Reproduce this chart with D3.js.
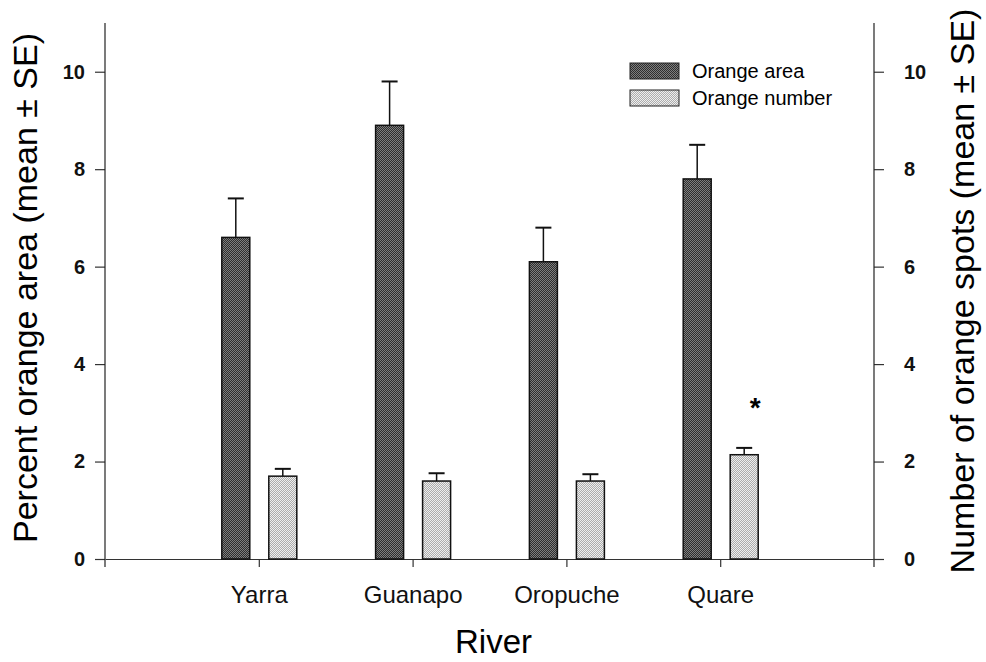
<!DOCTYPE html>
<html>
<head>
<meta charset="utf-8">
<script src="https://cdn.jsdelivr.net/npm/d3@7"></script>
<style>
  body { margin: 0; background: #fff; }
  text { font-family: "Liberation Sans", Arial, sans-serif; }
</style>
</head>
<body>
<div id="chart"></div>
<script>
// chart data
var rivers = ["Yarra", "Guanapo", "Oropuche", "Quare"];
var areaMean = [6.6, 8.9, 6.1, 7.8];
var areaSE = [0.8, 0.9, 0.7, 0.7];
var numberMean = [1.7, 1.6, 1.6, 2.14];
var numberSE = [0.15, 0.16, 0.14, 0.14];
var yTicks = [0, 2, 4, 6, 8, 10];
var seriesNames = ["Orange area", "Orange number"];
var starRiver = "Quare";

var svgWidth = 986;
var svgHeight = 662;

var margin = { top: 23, right: 112, bottom: 103, left: 105 };
var width = svgWidth - margin.left - margin.right;
var height = svgHeight - margin.top - margin.bottom;

var svg = d3.select("#chart")
  .append("svg")
  .attr("width", svgWidth)
  .attr("height", svgHeight);

// stipple patterns for the bars
var defs = svg.append("defs");
function stipple(id, a, b) {
  var p = defs.append("pattern")
    .attr("id", id)
    .attr("width", 2)
    .attr("height", 2)
    .attr("patternUnits", "userSpaceOnUse");
  p.append("rect").attr("width", 2).attr("height", 2).attr("fill", a);
  p.append("rect").attr("width", 1).attr("height", 1).attr("fill", b);
  p.append("rect").attr("x", 1).attr("y", 1).attr("width", 1).attr("height", 1).attr("fill", b);
}
stipple("darkFill", "#2e2e2e", "#7e7e7e");
stipple("lightFill", "#acacac", "#eeeeee");
var fills = ["url(#darkFill)", "url(#lightFill)"];

var chartGroup = svg.append("g")
  .attr("transform", `translate(${margin.left}, ${margin.top})`);

// categories sit at 1..4 on a 0..5 axis
var xScale = d3.scaleLinear()
  .domain([0, rivers.length + 1])
  .range([0, width]);

var yScale = d3.scaleLinear()
  .domain([0, 11])
  .range([height, 0]);

var barWidth = 28;
var offsets = [-23, 24];

// axes
var leftAxis = d3.axisLeft(yScale).tickValues(yTicks).tickSize(10).tickPadding(10).tickSizeOuter(0);
var rightAxis = d3.axisRight(yScale).tickValues(yTicks).tickSize(10).tickPadding(20).tickSizeOuter(0);
var bottomAxis = d3.axisBottom(xScale)
  .tickValues(d3.range(1, rivers.length + 1))
  .tickFormat(d => rivers[d - 1])
  .tickSize(8)
  .tickPadding(19)
  .tickSizeOuter(0);

var lg = chartGroup.append("g").attr("class", "axis").call(leftAxis);
var rg = chartGroup.append("g").attr("class", "axis")
  .attr("transform", `translate(${width}, 0)`).call(rightAxis);
var bg = chartGroup.append("g").attr("class", "axis")
  .attr("transform", `translate(0, ${height})`).call(bottomAxis);

[lg, rg].forEach(function (g) {
  g.select(".domain").remove();
  g.append("line")
    .attr("y1", 0).attr("y2", height + 8)
    .attr("stroke", "#222").attr("stroke-width", 1.2);
  g.selectAll(".tick text")
    .style("font-size", "20px")
    .style("font-weight", "bold")
    .attr("fill", "#111");
});
chartGroup.selectAll(".axis .tick line").attr("stroke", "#333").attr("stroke-width", 1.2);
bg.select(".domain").attr("stroke", "#333").attr("stroke-width", 1.2);
bg.selectAll(".tick text")
  .style("font-size", "24px")
  .attr("fill", "#111");

// bars
var series = [areaMean, numberMean];
var seriesSE = [areaSE, numberSE];

series.forEach(function (vals, s) {
  var cx = (d, i) => xScale(i + 1) + offsets[s];

  chartGroup.selectAll(".err" + s)
    .data(vals)
    .enter()
    .append("line")
    .attr("class", "err" + s)
    .attr("x1", cx).attr("x2", cx)
    .attr("y1", d => yScale(d))
    .attr("y2", (d, i) => yScale(d + seriesSE[s][i]))
    .attr("stroke", "#111").attr("stroke-width", 1.5);

  chartGroup.selectAll(".cap" + s)
    .data(vals)
    .enter()
    .append("line")
    .attr("class", "cap" + s)
    .attr("x1", (d, i) => cx(d, i) - 8).attr("x2", (d, i) => cx(d, i) + 8)
    .attr("y1", (d, i) => yScale(d + seriesSE[s][i]))
    .attr("y2", (d, i) => yScale(d + seriesSE[s][i]))
    .attr("stroke", "#111").attr("stroke-width", 2);

  chartGroup.selectAll(".bar" + s)
    .data(vals)
    .enter()
    .append("rect")
    .attr("class", "bar" + s)
    .attr("x", (d, i) => cx(d, i) - barWidth / 2)
    .attr("y", d => yScale(d))
    .attr("width", barWidth)
    .attr("height", d => height - yScale(d))
    .attr("fill", fills[s])
    .attr("stroke", "#111")
    .attr("stroke-width", 1.5);
});

// significance star
var si = rivers.indexOf(starRiver);
chartGroup.append("text")
  .attr("x", xScale(si + 1) + 35)
  .attr("y", yScale(numberMean[si] + numberSE[si]) - 31)
  .style("font-size", "28px")
  .style("font-weight", "bold")
  .style("text-anchor", "middle")
  .text("*");

// legend
var legend = chartGroup.selectAll(".legend")
  .data(seriesNames)
  .enter()
  .append("g")
  .attr("class", "legend")
  .attr("transform", (d, i) => `translate(${630 - margin.left}, ${63 - margin.top + i * 27})`);

legend.append("rect")
  .attr("width", 49).attr("height", 16)
  .attr("fill", (d, i) => fills[i])
  .attr("stroke", "#222").attr("stroke-width", 1);

legend.append("text")
  .attr("x", 62).attr("y", 15)
  .style("font-size", "20px")
  .text(d => d);

// axis titles
chartGroup.append("text")
  .attr("transform", "rotate(-90)")
  .attr("x", -265)
  .attr("y", -68)
  .style("font-size", "34px")
  .style("text-anchor", "middle")
  .text("Percent orange area (mean \u00b1 SE)");

chartGroup.append("text")
  .attr("transform", "rotate(-90)")
  .attr("x", -268)
  .attr("y", width + 100)
  .style("font-size", "34px")
  .style("text-anchor", "middle")
  .text("Number of orange spots (mean \u00b1 SE)");

chartGroup.append("text")
  .attr("x", width / 2 + 4)
  .attr("y", height + 94)
  .style("font-size", "33px")
  .style("text-anchor", "middle")
  .text("River");
</script>
</body>
</html>
